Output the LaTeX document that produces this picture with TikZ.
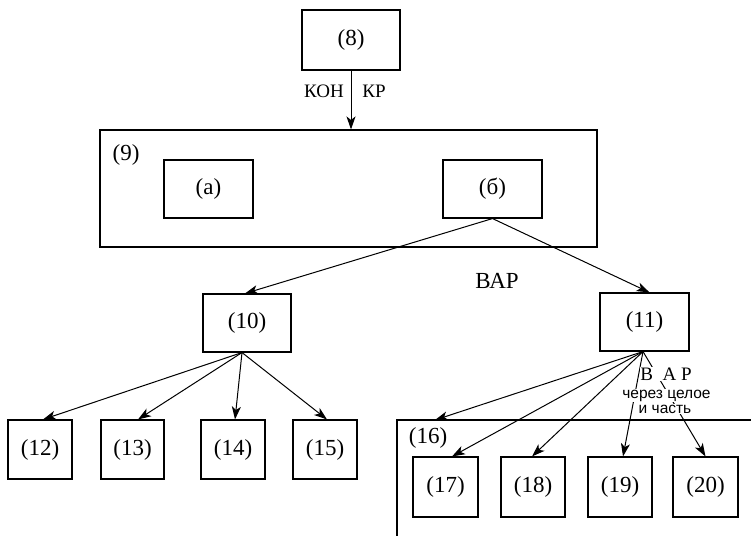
\documentclass[tikz,border=0pt]{standalone}
\usepackage{fontspec}
\setmainfont{Liberation Serif}
\newfontfamily\lserif{Liberation Serif}
\newfontfamily\lsans{Liberation Sans}
\usetikzlibrary{arrows.meta}
\begin{document}
\begin{tikzpicture}[x=1pt,y=-1pt,
  box/.style={draw,line width=1.1pt,rectangle,inner sep=0pt,font=\lserif\fontsize{23}{26}\selectfont},
  lbl/.style={font=\lserif\fontsize{23}{26}\selectfont,inner sep=0pt},
  small/.style={font=\lserif\fontsize{19}{20}\selectfont,inner sep=0pt},
  sans/.style={font=\lsans\fontsize{15.5}{14}\selectfont,inner sep=0.4pt,fill=white,anchor=base},
  arr/.style={line width=1pt,-{Stealth[length=13pt,width=9pt,inset=3.5pt]}},
]
\useasboundingbox (0,0) rectangle (751,536);
% top
\node[box,minimum width=98,minimum height=60] (n8) at (351,40) {(8)};
\node[box,minimum width=497,minimum height=117] (n9) at (348.5,188.5) {};
\node[lbl] (l9) at (126,155) {(9)};
\node[box,minimum width=89,minimum height=58] (na) at (208.5,189) {(а)};
\node[box,minimum width=99,minimum height=58] (nb) at (492.5,189) {(б)};
\node[small] (kon) at (324,91) {КОН};
\node[small] (kr) at (374,91) {КР};
\node[lbl] (var) at (497,281) {ВАР};
% middle
\node[box,minimum width=88,minimum height=58] (n10) at (247,323) {(10)};
\node[box,minimum width=89,minimum height=58] (n11) at (644.5,322) {(11)};
% bottom left
\node[box,minimum width=64,minimum height=59] (n12) at (40,449.5) {(12)};
\node[box,minimum width=63,minimum height=59] (n13) at (132.5,449.5) {(13)};
\node[box,minimum width=64,minimum height=59] (n14) at (233,449.5) {(14)};
\node[box,minimum width=64,minimum height=59] (n15) at (325,449.5) {(15)};
% frame 16
\coordinate (f16a) at (751,420);
\coordinate (f16b) at (397,420);
\coordinate (f16c) at (397,536);
\coordinate (f16in) at (435,420);
\draw[line width=1.1pt] (f16a) -- (f16b) -- (f16c);
\node[lbl] (l16) at (428,438) {(16)};
\node[box,minimum width=65,minimum height=60] (n17) at (445.5,487) {(17)};
\node[box,minimum width=64,minimum height=60] (n18) at (533,487) {(18)};
\node[box,minimum width=64,minimum height=60] (n19) at (620,487) {(19)};
\node[box,minimum width=65,minimum height=60] (n20) at (705.5,487) {(20)};
% arrows
\draw[arr] (n8.south) -- (n8.south |- n9.north);
\draw[arr] (nb.south) -- ([xshift=-2]n10.north);
\draw[arr] (nb.south) -- ([xshift=5]n11.north);
\draw[arr] ([xshift=-5]n10.south) -- ([xshift=3]n12.north);
\draw[arr] ([xshift=-5]n10.south) -- ([xshift=5.5]n13.north);
\draw[arr] ([xshift=-5]n10.south) -- ([xshift=2]n14.north);
\draw[arr] ([xshift=-5]n10.south) -- ([xshift=2]n15.north);
\draw[arr] ([xshift=-1.5]n11.south) -- (f16in);
\draw[arr] ([xshift=-1.5]n11.south) -- ([xshift=6.5]n17.north);
\draw[arr] ([xshift=-1.5]n11.south) -- ([xshift=-1]n18.north);
\draw[arr] ([xshift=-1.5]n11.south) -- ([xshift=3]n19.north);
\draw[arr] ([xshift=-1.5]n11.south) -- (n20.north);
% label over arrows
\node[small,fill=white,inner sep=0.5pt,anchor=base] (vap) at (666,380) {В\ \ А\ Р};
\node[sans] (t1) at (666.5,398) {через целое};
\node[sans] (t2) at (665,413) {и часть};
\end{tikzpicture}
\end{document}
